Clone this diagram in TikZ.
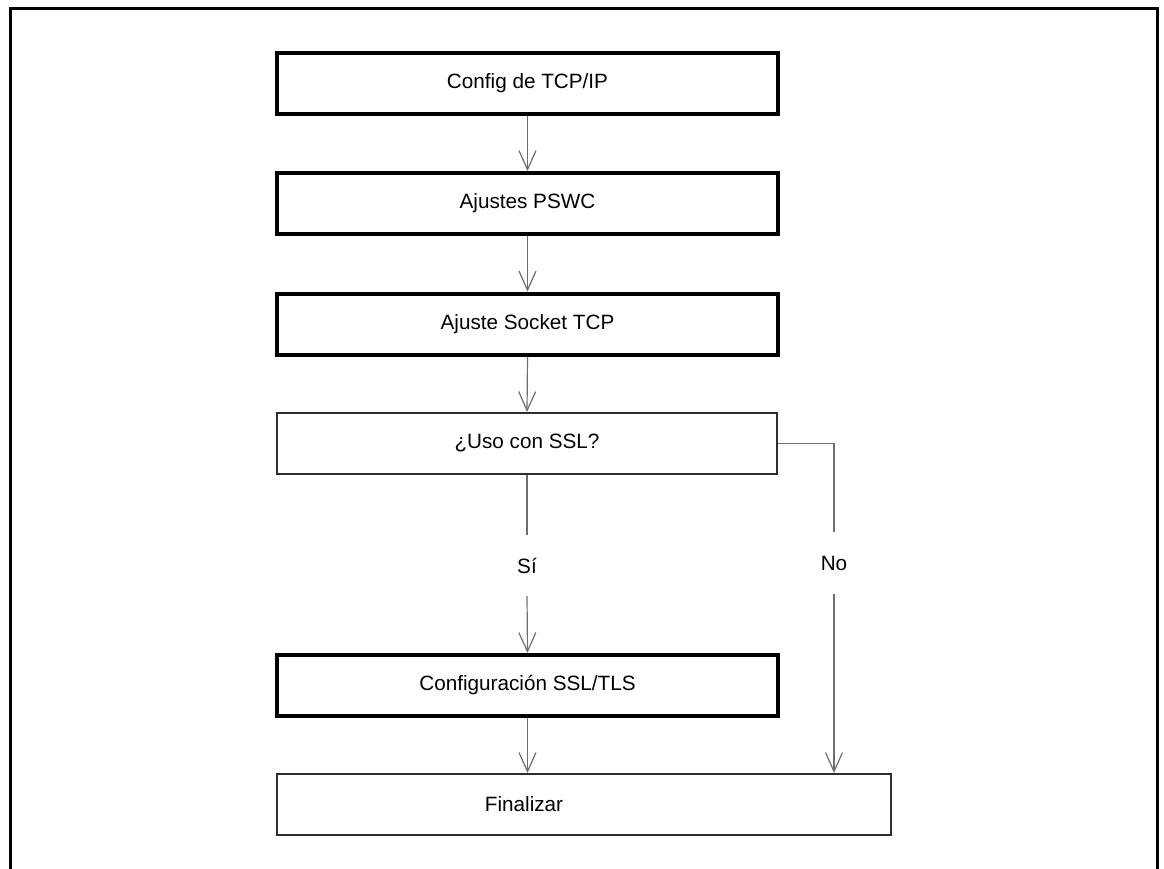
\documentclass[tikz,border=0pt]{standalone}
\usepackage{fontspec}
\setmainfont{Liberation Sans}
\usetikzlibrary{arrows.meta}
\definecolor{linegray}{HTML}{6E6E6E}
\definecolor{thinedge}{HTML}{2E2E2E}
\tikzset{
  thickbox/.style={draw=black, line width=4pt, minimum width=501pt, minimum height=61pt, inner sep=0pt, fill=white},
  thinbox/.style={draw=thinedge, line width=2pt, minimum height=61pt, inner sep=0pt, fill=white},
  lbl/.style={font=\fontsize{20.7}{24}\selectfont, inner sep=0pt},
  conn/.style={draw=linegray, line width=1.2pt},
  arr/.style={conn, -{Straight Barb[length=19pt, width=17pt, line width=1.2pt]}},
  gapnode/.style={lbl, minimum height=61pt}
}
\begin{document}
\begin{tikzpicture}[x=1pt,y=-1pt]
\useasboundingbox (0,0) rectangle (1164,868);
\draw[line width=3pt] (10,880) -- (10,8) -- (1157,8) -- (1157,880);

\node[thickbox, lbl] (b1) at (527.5,83.5) {Config de TCP/IP};
\node[thickbox, lbl] (b2) at (527.5,203.5) {Ajustes PSWC};
\node[thickbox, lbl] (b3) at (527.5,324) {Ajuste Socket TCP};
\node[thinbox, lbl, minimum width=500pt] (b4) at (527,443.5) {¿Uso con SSL?};
\node[gapnode] (si) at (527,565.5) {Sí};
\node[gapnode] (no) at (834,563) {No};
\node[thickbox, lbl] (b5) at (527.5,685.5) {Configuración SSL/TLS};
\node[thinbox, minimum width=614pt] (fin) at (584,804.5) {};
\node[lbl] (fintext) at (524,804.5) {Finalizar};

\draw[arr] (b1.south) -- (b2.north);
\draw[arr] (b2.south) -- (b3.north);
\draw[arr] (b3.south) -- (b4.north);
\draw[conn] (b4.south) -- (si.north);
\draw[arr] (si.south) -- (b5.north);
\draw[conn] (b4.east) -| (no.north);
\draw[arr] (no.south) -- (no.south |- fin.north);
\draw[arr] (b5.south) -- (b5.south |- fin.north);
\end{tikzpicture}
\end{document}
